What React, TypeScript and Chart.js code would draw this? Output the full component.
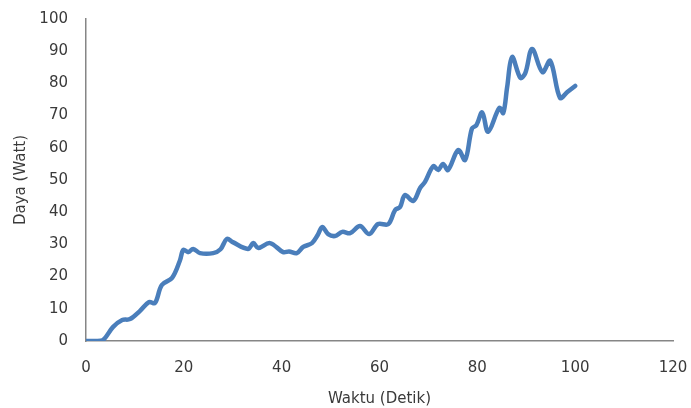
import React, { useEffect, useRef } from "react";
import { Chart, registerables } from "chart.js";

Chart.register(...registerables);

const timeSeconds = [
  0, 2, 3.5, 5.5, 7.4, 9, 11, 12.9, 14.1, 15.5, 17.6, 19.2, 19.9, 20.9, 21.9, 23.3, 26, 27.5,
  28.8, 30, 33.1, 34.2, 35.2, 37.6, 40.3, 41.5, 43.1, 44.4, 46.2, 47.4, 48.3, 49.5, 50.9, 52.4,
  54, 56, 57.9, 59.7, 61.8, 63.2, 64.2, 65.2, 66.9, 68.3, 69.3, 71, 72, 73, 74, 76.1, 77.5, 78.9,
  79.8, 81, 82.2, 84.5, 85.3, 86.1, 87.1, 88.8, 89.8, 91.2, 93.3, 94.9, 96.9, 98.4, 100,
];
const powerWatt = [
  0, 0, 0.3, 4.3, 6.5, 6.8, 9.3, 12.1, 11.8, 17.4, 19.6, 25, 28.3, 27.6, 28.6, 27.3, 27.3, 28.5,
  31.7, 30.7, 28.6, 30.4, 28.9, 30.4, 27.6, 27.8, 27.3, 29.2, 30.4, 33, 35.4, 33.2, 32.6, 33.9,
  33.5, 35.7, 33.2, 36.3, 36.3, 40.7, 41.6, 45.3, 43.5, 47.5, 49.4, 54.3, 53.1, 55, 53.1, 59.3, 56.2, 66,
  67, 71, 65, 72.4, 70.8, 78.9, 88.2, 81.7, 83.2, 90.7, 83.5, 87, 75.5, 77.3, 79.2,
];
const xTicks = [0, 20, 40, 60, 80, 100, 120];
const yTicks = [0, 10, 20, 30, 40, 50, 60, 70, 80, 90, 100];
const xTitle = "Waktu (Detik)";
const yTitle = "Daya (Watt)";

export default function App() {
  const ref = useRef<HTMLCanvasElement | null>(null);
  useEffect(() => {
    document.body.style.margin = "0";
    const canvas = ref.current!;
    const textColor = "#3a3a3a";
    const font = { family: "'DejaVu Sans', Verdana, sans-serif", size: 15 };
    const chart = new Chart(canvas, {
      type: "line",
      data: {
        datasets: [
          {
            data: timeSeconds.map((t, i) => ({ x: t, y: powerWatt[i] })),
            borderColor: "#4A7EBB",
            borderWidth: 4.5,
            pointRadius: 0,
            tension: 0.35,
            fill: false,
            borderCapStyle: "round",
            borderJoinStyle: "round",
          },
        ],
      },
      options: {
        responsive: false,
        animation: false,
        layout: { padding: { top: 19, right: 18, left: 0, bottom: 0 } },
        plugins: { legend: { display: false }, tooltip: { enabled: false } },
        scales: {
          x: {
            type: "linear",
            min: 0,
            max: 120,
            afterBuildTicks: (s: any) => {
              s.ticks = xTicks.map((v) => ({ value: v }));
            },
            afterFit: (s: any) => {
              s.height = 67;
              s.paddingLeft = 0;
              s.paddingRight = 0;
            },
            grid: { display: false, drawTicks: false },
            border: { display: true, color: "#868686", width: 1.5 },
            ticks: { color: textColor, font, padding: 18, maxRotation: 0 },
            title: { display: true, text: xTitle, color: textColor, font, padding: { top: 0, bottom: 0 } },
          },
          y: {
            type: "linear",
            min: 0,
            max: 100,
            afterBuildTicks: (s: any) => {
              s.ticks = yTicks.map((v) => ({ value: v }));
            },
            afterFit: (s: any) => {
              s.width = 86;
              s.paddingTop = 0;
              s.paddingBottom = 0;
            },
            grid: { display: false, drawTicks: false },
            border: { display: true, color: "#868686", width: 1.5 },
            ticks: { color: textColor, font, padding: 18 },
            title: { display: true, text: yTitle, color: textColor, font, padding: { top: 12, bottom: 0 } },
          },
        },
      },
    } as any);
    return () => chart.destroy();
  }, []);
  return (
    <div style={{ position: "absolute", left: 0, top: 0, width: 691, height: 408 }}>
      <canvas ref={ref} width={691} height={408} />
    </div>
  );
}
